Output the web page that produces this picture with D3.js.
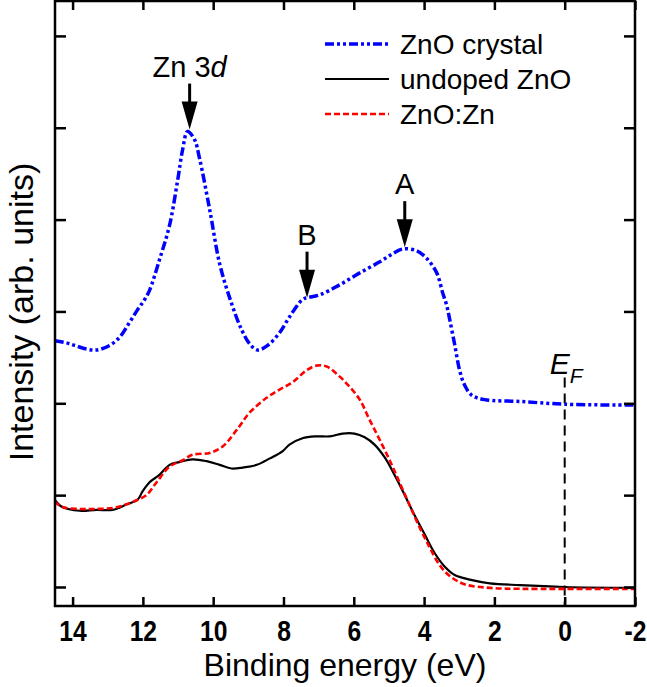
<!DOCTYPE html>
<html>
<head>
<meta charset="utf-8">
<script src="https://cdn.jsdelivr.net/npm/d3@7"></script>
<style>
  body { margin: 0; background: #fff; }
  text { font-family: "Liberation Sans", Arial, sans-serif; }
</style>
</head>
<body>
<svg id="chart" width="647" height="687"></svg>
<script>
// binding energy (eV) / intensity (arb. units)
var crystalE = [14.51, 14.2, 13.94, 13.6, 13.32, 12.95, 12.66, 12.38, 12.15, 11.95, 11.81, 11.53, 11.24, 11.01, 10.87, 10.73, 10.53, 10.39, 10.10, 9.81, 9.48, 9.19, 8.95, 8.74, 8.45, 8.11, 7.83, 7.46, 7.31, 6.97, 6.40, 5.83, 5.26, 4.89, 4.61, 4.21, 3.93, 3.64, 3.47, 3.36, 3.27, 3.13, 2.99, 2.85, 2.65, 2.28, 1.28, 0, -2];
var crystalI = [2.68, 2.66, 2.63, 2.59, 2.58, 2.63, 2.72, 2.88, 3.02, 3.13, 3.23, 3.56, 3.94, 4.43, 4.76, 4.96, 4.87, 4.67, 4.11, 3.51, 3.09, 2.80, 2.64, 2.58, 2.63, 2.77, 2.94, 3.13, 3.15, 3.18, 3.29, 3.42, 3.54, 3.63, 3.68, 3.66, 3.58, 3.42, 3.20, 3.07, 2.91, 2.64, 2.36, 2.20, 2.09, 2.04, 2.02, 1.99, 1.98];

var undopedE = [14.51, 14.29, 13.80, 13.32, 12.86, 12.46, 12.15, 12.01, 11.81, 11.53, 11.24, 10.96, 10.59, 10.19, 9.82, 9.48, 9.16, 8.76, 8.39, 8.02, 7.83, 7.46, 7.06, 6.69, 6.32, 5.98, 5.69, 5.41, 5.12, 4.84, 4.55, 4.27, 3.98, 3.70, 3.41, 3.13, 2.70, 2.13, 1.28, 0, -2];
var undopedI = [0.95, 0.87, 0.83, 0.84, 0.84, 0.90, 0.95, 1.04, 1.14, 1.22, 1.33, 1.36, 1.39, 1.37, 1.33, 1.29, 1.30, 1.33, 1.40, 1.48, 1.55, 1.62, 1.64, 1.64, 1.67, 1.67, 1.63, 1.55, 1.41, 1.22, 1.00, 0.78, 0.57, 0.37, 0.22, 0.13, 0.08, 0.04, 0.02, 0, -0.01];

var dopedE = [14.51, 14.29, 13.80, 13.32, 12.86, 12.46, 12.15, 11.90, 11.61, 11.24, 10.87, 10.59, 10.10, 9.73, 9.33, 8.96, 8.48, 8.11, 7.74, 7.34, 7.06, 6.77, 6.40, 6.12, 5.83, 5.55, 5.26, 4.98, 4.70, 4.41, 4.13, 3.84, 3.56, 3.27, 2.85, 2.13, 1.28, 0, -2];
var dopedI = [0.93, 0.87, 0.85, 0.85, 0.86, 0.90, 0.95, 1.00, 1.14, 1.31, 1.38, 1.44, 1.46, 1.53, 1.71, 1.90, 2.06, 2.15, 2.23, 2.36, 2.41, 2.40, 2.29, 2.18, 2.04, 1.82, 1.60, 1.38, 1.14, 0.89, 0.65, 0.43, 0.24, 0.12, 0.03, -0.01, -0.02, -0.02, -0.02];

var xTicks = [14, 12, 10, 8, 6, 4, 2, 0, -2];
var yTicks = [0, 1, 2, 3, 4, 5, 6];

var seriesNames = ["ZnO crystal", "undoped ZnO", "ZnO:Zn"];
var seriesColors = ["#0000ff", "#000000", "#ff0000"];

// peak markers: label, energy, intensity at arrow tip
var markerLabels = ["Zn 3d", "B", "A"];
var markerE = [10.67, 7.33, 4.55];
var markerTip = [4.98, 3.15, 3.7];

(function () {
  var svg = d3.select("#chart");
  var mLeft = 55, mRight = 635, mTop = 1, mBottom = 606;

  var x = d3.scaleLinear().domain([14.5, -2]).range([mLeft, mRight]);
  var y = d3.scaleLinear().domain([-0.207, 6.38]).range([mBottom, mTop]);

  function toPts(es, is) {
    return es.map(function (e, i) { return [e, is[i]]; });
  }

  var line = d3.line()
    .x(function (d) { return x(d[0]); })
    .y(function (d) { return y(d[1]); })
    .curve(d3.curveCatmullRom.alpha(0.5));

  var plot = svg.append("g");

  // Fermi level
  plot.append("line")
    .attr("x1", x(0)).attr("x2", x(0))
    .attr("y1", y(2.28)).attr("y2", mBottom)
    .attr("stroke", "#000").attr("stroke-width", 2)
    .attr("stroke-dasharray", "10,6");

  plot.append("path")
    .datum(toPts(undopedE, undopedI))
    .attr("d", line)
    .attr("fill", "none").attr("stroke", seriesColors[1]).attr("stroke-width", 2.2);

  plot.append("path")
    .datum(toPts(dopedE, dopedI))
    .attr("d", line)
    .attr("fill", "none").attr("stroke", seriesColors[2]).attr("stroke-width", 2.6)
    .attr("stroke-dasharray", "6,3");

  plot.append("path")
    .datum(toPts(crystalE, crystalI))
    .attr("d", line)
    .attr("fill", "none").attr("stroke", seriesColors[0]).attr("stroke-width", 3.5)
    .attr("stroke-dasharray", "9,3,3,3,3,3");

  // axes: ticks inward on all four sides, no y labels
  var axB = d3.axisBottom(x).tickValues(xTicks).tickSize(-9).tickPadding(14)
    .tickFormat(function (d) { return String(d); });
  var axT = d3.axisTop(x).tickValues(xTicks).tickSize(-9).tickFormat("");
  var axL = d3.axisLeft(y).tickValues(yTicks).tickSize(-11).tickFormat("");
  var axR = d3.axisRight(y).tickValues(yTicks).tickSize(-11).tickFormat("");

  function styleAxis(g) {
    g.select(".domain").remove();
    g.selectAll(".tick line").attr("stroke", "#000").attr("stroke-width", 2.5);
  }

  svg.append("g").attr("transform", "translate(0," + mBottom + ")").call(axB).call(styleAxis)
    .selectAll("text")
    .attr("fill", "#000")
    .attr("transform", "scale(0.85,1)")
    .style("font-weight", "bold")
    .style("font-size", "29px");
  svg.append("g").attr("transform", "translate(0," + mTop + ")").call(axT).call(styleAxis);
  svg.append("g").attr("transform", "translate(" + mLeft + ",0)").call(axL).call(styleAxis);
  svg.append("g").attr("transform", "translate(" + mRight + ",0)").call(axR).call(styleAxis);

  svg.append("rect")
    .attr("x", mLeft).attr("y", mTop)
    .attr("width", mRight - mLeft).attr("height", mBottom - mTop)
    .attr("fill", "none").attr("stroke", "#000").attr("stroke-width", 2.5);

  // axis titles
  svg.append("text")
    .attr("x", (mLeft + mRight) / 2).attr("y", 676)
    .attr("text-anchor", "middle")
    .style("font-size", "32px")
    .text("Binding energy (eV)");

  svg.append("text")
    .attr("transform", "translate(33,312)rotate(-90)")
    .attr("text-anchor", "middle")
    .style("font-size", "34px")
    .text("Intensity (arb. units)");

  // E_F label
  var ef = svg.append("text")
    .attr("x", x(0) - 15).attr("y", y(2.32))
    .style("font-size", "30px").style("font-style", "italic");
  ef.append("tspan").text("E");
  ef.append("tspan").attr("dy", 9).style("font-size", "21px").text("F");

  // arrows
  var arrows = svg.append("g");
  markerLabels.forEach(function (lab, i) {
    var cx = x(markerE[i]);
    var tip = y(markerTip[i]);
    var topY = tip - 46;
    arrows.append("line")
      .attr("x1", cx).attr("x2", cx)
      .attr("y1", topY).attr("y2", tip - 20)
      .attr("stroke", "#000").attr("stroke-width", 3);
    arrows.append("path")
      .attr("d", "M" + (cx - 8) + "," + (tip - 28) + "L" + (cx + 8) + "," + (tip - 28) + "L" + cx + "," + tip + "Z")
      .attr("fill", "#000");
    var t = arrows.append("text")
      .attr("x", cx).attr("y", topY - 7)
      .attr("text-anchor", "middle")
      .style("font-size", "29px");
    if (lab === "Zn 3d") {
      t.append("tspan").text("Zn 3");
      t.append("tspan").style("font-style", "italic").text("d");
    } else {
      t.text(lab);
    }
  });

  // legend
  var legend = svg.append("g").attr("transform", "translate(325,44)");
  var dashes = ["9,3,3,3,3,3", null, "6,3"];
  var widths = [3.5, 2.2, 2.6];
  seriesNames.forEach(function (name, i) {
    var gy = i * 35;
    legend.append("line")
      .attr("x1", 0).attr("x2", 64)
      .attr("y1", gy).attr("y2", gy)
      .attr("stroke", seriesColors[i]).attr("stroke-width", widths[i])
      .attr("stroke-dasharray", dashes[i]);
    legend.append("text")
      .attr("x", 75).attr("y", gy + 10)
      .style("font-size", "28px")
      .text(name);
  });
})();
</script>
</body>
</html>
